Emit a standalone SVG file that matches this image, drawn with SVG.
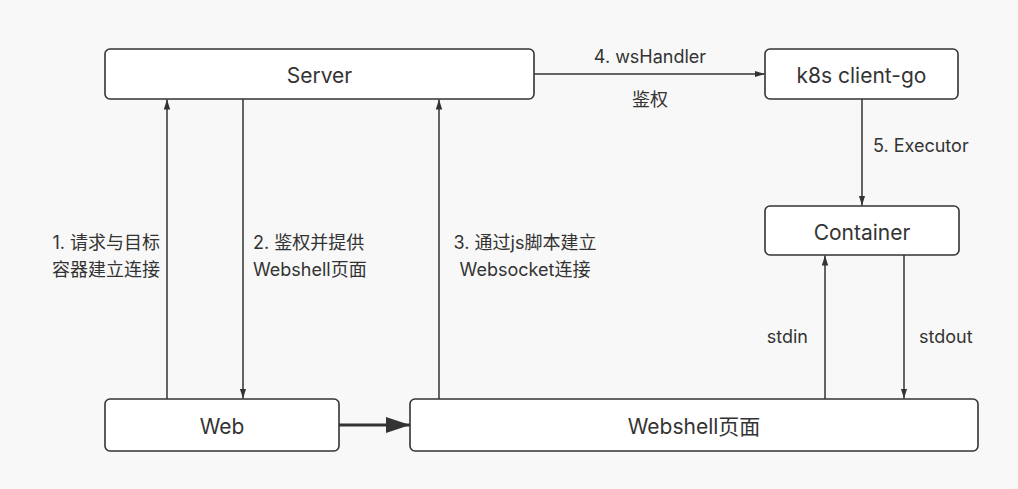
<svg xmlns="http://www.w3.org/2000/svg" width="1018" height="489" viewBox="0 0 1018 489">
<defs>
<style>
.bg{fill:#f8f8f8}
.box{fill:#ffffff;stroke:#333333;stroke-width:1.6}
.nt{font-family:Inter,"Noto Sans CJK SC",sans-serif;font-size:21px;fill:#333333;text-anchor:middle;dominant-baseline:central}
.lb{font-family:Inter,"Noto Sans CJK SC",sans-serif;font-size:18px;fill:#333333}
.ln{fill:none;stroke:#333333;stroke-width:1.5}
.thick{fill:none;stroke:#333333;stroke-width:3}
</style>
<marker id="ah" markerWidth="10" markerHeight="16" refX="14" refY="4.5" viewBox="0 0 14 9" markerUnits="userSpaceOnUse" orient="auto">
<path d="M0,0 L14,4.5 L0,9 Z" fill="#333333"/>
</marker>
<marker id="ahb" markerWidth="24" markerHeight="16" refX="24" refY="8" viewBox="0 0 24 16" markerUnits="userSpaceOnUse" orient="auto">
<path d="M0,0 L24,8 L0,16 Z" fill="#333333"/>
</marker>
</defs>
<rect class="bg" x="0" y="0" width="1018" height="489"/>
<g id="connectors">
<line class="ln" x1="167" y1="399" x2="167" y2="99.5" marker-end="url(#ah)"/>
<line class="ln" x1="243" y1="99" x2="243" y2="398.5" marker-end="url(#ah)"/>
<line class="ln" x1="439" y1="399" x2="439" y2="99.5" marker-end="url(#ah)"/>
<line class="ln" x1="534" y1="74" x2="764.5" y2="74" marker-end="url(#ah)"/>
<line class="ln" x1="862" y1="99" x2="862" y2="205.5" marker-end="url(#ah)"/>
<line class="ln" x1="825" y1="399" x2="825" y2="255.5" marker-end="url(#ah)"/>
<line class="ln" x1="904" y1="255" x2="904" y2="398.5" marker-end="url(#ah)"/>
<line class="thick" x1="339" y1="425" x2="410" y2="425" marker-end="url(#ahb)"/>
<text class="lb" x="160" y="249" text-anchor="end">1. 请求与目标</text>
<text class="lb" x="160" y="276" text-anchor="end">容器建立连接</text>
<text class="lb" x="253" y="249">2. 鉴权并提供</text>
<text class="lb" x="253" y="276">Webshell页面</text>
<text class="lb" x="525" y="249" text-anchor="middle">3. 通过js脚本建立</text>
<text class="lb" x="525" y="276" text-anchor="middle">Websocket连接</text>
<text class="lb" x="650" y="63" text-anchor="middle">4. wsHandler</text>
<text class="lb" x="650" y="106" text-anchor="middle">鉴权</text>
<text class="lb" x="873" y="152">5. Executor</text>
<text class="lb" x="808" y="343" text-anchor="end">stdin</text>
<text class="lb" x="919" y="343">stdout</text>
</g>
<g id="server">
<rect class="box" x="105" y="49" width="429" height="50" rx="5"/>
<text class="nt" x="319.5" y="75">Server</text>
</g>
<g id="k8s">
<rect class="box" x="765" y="49" width="193" height="50" rx="5"/>
<text class="nt" x="861.5" y="75">k8s client-go</text>
</g>
<g id="container">
<rect class="box" x="765" y="206" width="194" height="49" rx="5"/>
<text class="nt" x="862" y="232">Container</text>
</g>
<g id="web">
<rect class="box" x="105" y="399" width="234" height="52" rx="5"/>
<text class="nt" x="222" y="426">Web</text>
</g>
<g id="webshell">
<rect class="box" x="410" y="399" width="568" height="52" rx="5"/>
<text class="nt" x="694" y="426">Webshell页面</text>
</g>
</svg>
